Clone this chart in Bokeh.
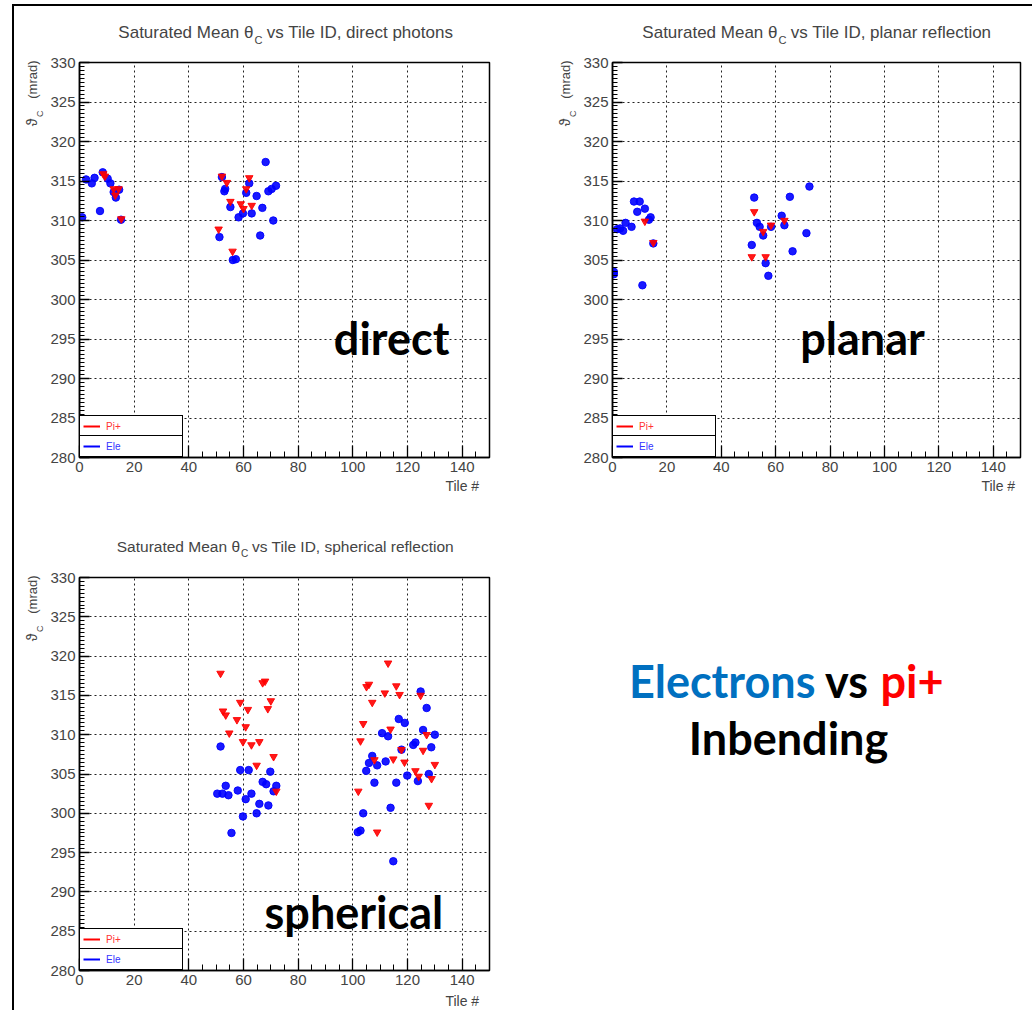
import math
from bokeh.plotting import figure
from bokeh.models import Range1d, SingleIntervalTicker, Label, Legend, LegendItem
from bokeh.layouts import column, row
from bokeh.embed import file_html
from bokeh.resources import INLINE

# ---------------- data ----------------
x_ticks_interval = 20
y_ticks_interval = 5

direct_ele_x = [1.0, 2.4, 4.5, 5.5, 7.5, 8.5, 10.3, 11.3, 12.5, 14.5, 13.3, 15.2,
                52.1, 53.3, 53.0, 55.2, 51.2, 56.1, 57.2, 58.2, 59.8, 61.0, 62.1, 63.0,
                64.8, 66.1, 66.9, 68.1, 69.1, 70.3, 71.9, 70.9]
direct_ele_y = [310.4, 315.2, 314.7, 315.4, 311.2, 316.1, 315.3, 314.7, 313.6, 313.9, 312.9, 310.1,
                315.5, 314.0, 313.7, 311.7, 307.9, 305.0, 305.1, 310.4, 310.9, 313.5, 314.7, 310.9,
                313.1, 308.1, 311.6, 317.4, 313.7, 314.0, 314.4, 310.0]
direct_pi_x = [8.7, 9.3, 12.5, 14.3, 13.1, 15.3, 52.1, 53.9, 55.2, 50.9, 56.0, 59.0, 60.0, 61.0, 62.1, 63.0]
direct_pi_y = [315.9, 315.6, 314.0, 314.0, 313.2, 310.2, 315.6, 314.8, 312.4, 308.9, 306.1, 312.1, 311.5, 314.0, 315.4, 311.9]

planar_ele_x = [0.5, 0.5, 1.7, 2.8, 3.9, 4.8, 7.0, 7.9, 10.0, 9.1, 11.9, 13.4, 14.0, 11.0, 15.0,
                52.1, 53.1, 54.1, 55.4, 51.2, 56.3, 57.3, 58.3, 62.2, 63.2, 65.2, 66.2, 71.3, 72.4]
planar_ele_y = [303.5, 303.2, 308.9, 309.0, 308.7, 309.7, 309.2, 312.4, 312.4, 311.1, 311.5, 310.1, 310.4, 301.8, 307.1,
                312.9, 309.7, 309.2, 308.1, 306.9, 304.6, 303.0, 309.2, 310.6, 309.4, 313.0, 306.1, 308.4, 314.3]
planar_pi_x = [11.9, 15.0, 52.1, 55.4, 51.2, 56.3, 58.3, 63.2]
planar_pi_y = [309.9, 307.2, 311.1, 308.6, 305.4, 305.4, 309.4, 310.0]

spherical_ele_x = [51.6, 58.8, 61.9, 69.8, 53.5, 50.4, 52.3, 54.5, 57.9, 67.0, 68.3, 72.0, 71.0, 62.9,
                   60.8, 65.8, 69.1, 64.8, 59.8, 55.6,
                   124.8, 127.0, 116.8, 119.0, 125.7, 110.7, 112.9, 130.0, 122.1, 122.9, 128.7, 117.8,
                   107.1, 105.9, 108.9, 112.0, 104.9, 119.9, 127.8, 107.9, 115.9, 123.8, 113.8, 103.8,
                   101.8, 102.8, 114.8]
spherical_ele_y = [308.5, 305.5, 305.5, 305.3, 303.5, 302.5, 302.5, 302.3, 302.9, 304.0, 303.7, 303.5, 302.8, 302.5,
                   301.8, 301.2, 301.0, 300.0, 299.6, 297.5,
                   315.5, 313.4, 312.0, 311.5, 310.6, 310.2, 309.8, 310.0, 308.7, 309.0, 308.4, 308.1,
                   307.3, 306.4, 306.1, 306.6, 305.4, 304.8, 305.0, 303.9, 303.9, 304.1, 300.7, 300.0,
                   297.6, 297.8, 293.9]
spherical_pi_x = [51.6, 67.0, 67.9, 58.8, 70.0, 52.5, 53.5, 61.6, 68.9, 57.6, 60.8, 54.8, 59.8, 62.9,
                  65.8, 71.0, 64.8, 72.0,
                  112.9, 105.0, 105.9, 115.9, 111.7, 117.1, 124.8, 107.1, 103.8, 113.8, 102.8, 127.0,
                  117.8, 125.7, 107.9, 114.8, 118.9, 130.0, 122.9, 124.1, 128.8, 102.0, 127.8, 108.9]
spherical_pi_y = [317.8, 316.6, 316.8, 314.1, 314.3, 313.0, 312.5, 313.2, 313.3, 311.9, 311.0, 310.2, 309.1, 308.7,
                  309.1, 307.2, 306.1, 302.8,
                  319.1, 316.1, 316.4, 316.2, 315.3, 315.1, 315.0, 314.1, 311.4, 310.7, 309.2, 310.0,
                  308.1, 308.0, 306.8, 306.9, 306.5, 306.2, 305.4, 304.7, 304.4, 302.8, 301.0, 297.6]

legend_labels = ["Pi+", "Ele"]
x_axis_label = "Tile #"
y_label_parts = ["\u03d1", "C", "(mrad)"]
title_head = "Saturated Mean \u03b8"
title_sub = "C"
title_tails = ["vs Tile ID, direct photons", "vs Tile ID, planar reflection",
               "vs Tile ID, spherical reflection"]
panel_words = ["direct", "planar", "spherical"]

FONT = "Liberation Sans"
RED = "#ff0000"
BLUE = "#0000ff"
TXT = "#444444"


def blank(w, h):
    f = figure(width=w, height=h, x_range=Range1d(0, w), y_range=Range1d(h, 0),
               x_axis_type=None, y_axis_type=None, output_backend="svg", title=None,
               toolbar_location=None, tools="", min_border=0,
               min_border_left=0, min_border_right=0, min_border_top=0, min_border_bottom=0)
    f.grid.visible = False
    f.outline_line_color = None
    f.background_fill_color = "white"
    f.border_fill_color = "white"
    return f


def title_fig(w, h, split_x, yc, tsize, tail):
    t = blank(w, h)
    t.add_layout(Label(x=split_x, y=yc, text=title_head, text_align="right", text_baseline="middle",
                       text_font=FONT, text_font_size=f"{tsize}px", text_color=TXT))
    t.add_layout(Label(x=split_x + 1, y=yc + 7, text=title_sub, text_align="left", text_baseline="middle",
                       text_font=FONT, text_font_size=f"{tsize * 0.65:.1f}px", text_color=TXT))
    t.add_layout(Label(x=split_x + tsize * 0.78, y=yc, text=tail,
                       text_align="left", text_baseline="middle",
                       text_font=FONT, text_font_size=f"{tsize}px", text_color=TXT))
    return t


def ylabel_fig(w, h, xc, ytop):
    f = blank(w, h)
    f.add_layout(Label(x=xc, y=ytop, text=y_label_parts[2], angle=math.pi / 2, text_align="right",
                       text_baseline="middle", text_font=FONT, text_font_size="13px", text_color=TXT))
    f.add_layout(Label(x=xc + 7, y=ytop + 50, text=y_label_parts[1], angle=math.pi / 2, text_align="right",
                       text_baseline="middle", text_font=FONT, text_font_size="9px", text_color=TXT))
    f.add_layout(Label(x=xc - 1, y=ytop + 58, text=y_label_parts[0], angle=math.pi / 2, text_align="right",
                       text_baseline="middle", text_font=FONT, text_font_size="14px", text_color=TXT))
    return f


def xlabel_fig(w, h, xr, yc):
    f = blank(w, h)
    f.add_layout(Label(x=xr, y=yc, text=x_axis_label, text_align="right", text_baseline="middle",
                       text_font=FONT, text_font_size="14px", text_color=TXT))
    return f


def make_panel(w, h, bl, br, bt, bb, ex, ey, px, py, big, bx, by):
    p = figure(width=w, height=h, x_range=Range1d(0, 150), y_range=Range1d(280, 330),
               output_backend="svg", toolbar_location=None, tools="", title=None,
               min_border_left=bl, min_border_right=br, min_border_top=bt, min_border_bottom=bb)
    p.outline_line_color = "black"
    p.outline_line_width = 1.5
    p.outline_line_alpha = 1.0
    p.background_fill_color = "white"
    p.border_fill_color = "white"

    p.xaxis.ticker = SingleIntervalTicker(interval=x_ticks_interval, num_minor_ticks=4)
    p.yaxis.ticker = SingleIntervalTicker(interval=y_ticks_interval, num_minor_ticks=10)
    for ax in (p.xaxis[0], p.yaxis[0]):
        ax.axis_line_color = "black"
        ax.axis_line_width = 1.5
        ax.major_tick_line_color = "black"
        ax.minor_tick_line_color = "black"
        ax.major_tick_line_width = 1.3
        ax.minor_tick_line_width = 1.0
        ax.major_tick_out = 0
        ax.minor_tick_out = 0
        ax.major_label_text_font = FONT
        ax.major_label_text_font_size = "15px"
        ax.major_label_text_color = TXT
        ax.major_label_standoff = 4
    p.xaxis.major_tick_in = 12
    p.xaxis.minor_tick_in = 6
    p.yaxis.major_tick_in = 10
    p.yaxis.minor_tick_in = 5

    for g in (p.xgrid[0], p.ygrid[0]):
        g.grid_line_color = "#222222"
        g.grid_line_dash = "2 3"
        g.grid_line_width = 1

    p.scatter(ex, ey, marker="circle", size=7.5, fill_color=BLUE, line_color=BLUE, alpha=0.9)
    p.scatter(px, py, marker="inverted_triangle", size=7.5, fill_color=RED, line_color=RED, alpha=0.9)

    # legend (two boxed rows, line glyphs)
    nan = float("nan")
    r_pi = p.line([nan], [nan], line_color=RED, line_width=2)
    r_el = p.line([nan], [nan], line_color=BLUE, line_width=2)
    for lab, rr, col, loc in ((legend_labels[0], r_pi, "#ff3333", (0, 20)),
                              (legend_labels[1], r_el, "#3333ff", (0, 0))):
        lg = Legend(items=[LegendItem(label=lab, renderers=[rr])], location=loc,
                    border_line_color="black", border_line_width=1.5, border_line_alpha=1.0,
                    background_fill_color="white", background_fill_alpha=1.0,
                    label_text_font=FONT, label_text_font_size="10px", label_text_color=col,
                    glyph_width=17, glyph_height=14, label_height=14, label_width=73,
                    label_standoff=6, padding=3, margin=0, spacing=0)
        p.add_layout(lg)

    p.add_layout(Label(x=bx, y=by, text=big, text_align="center", text_baseline="middle",
                       text_font="Lato", text_font_style="bold", text_font_size="45px",
                       text_color="black"))
    return p


# --- panel 1 (direct) ---
t1 = title_fig(506, 42, 239, 26, 17, title_tails[0])
p1 = make_panel(474, 431, 33, 31, 14, 22, direct_ele_x, direct_ele_y, direct_pi_x, direct_pi_y,
                panel_words[0], 114.2, 295.1)
xl1 = xlabel_fig(474, 41, 462, 6)
yl1 = ylabel_fig(32, 472, 18, 12)

# --- panel 2 (planar) ---
t2 = title_fig(512, 42, 257, 26, 17, title_tails[1])
p2 = make_panel(454, 431, 34, 12, 14, 22, planar_ele_x, planar_ele_y, planar_pi_x, planar_pi_y,
                panel_words[1], 91.9, 295.1)
xl2 = xlabel_fig(454, 41, 448, 6)
yl2 = ylabel_fig(58, 472, 45, 12)

# --- panel 3 (spherical) ---
t3 = title_fig(506, 42, 225.5, 26, 15.5, title_tails[2])
p3 = make_panel(474, 430, 33, 31, 15, 22, spherical_ele_x, spherical_ele_y, spherical_pi_x, spherical_pi_y,
                panel_words[2], 100.4, 287.4)
xl3 = xlabel_fig(474, 18, 462, 8)
yl3 = ylabel_fig(32, 448, 18, 13)

# --- text panel ---
p4 = blank(512, 490)
big_style = dict(text_font="Lato", text_font_style="bold", text_font_size="45px", text_baseline="middle")
p4.add_layout(Label(x=295, y=160, text="Electrons", text_align="right", text_color="#0070c0", **big_style))
p4.add_layout(Label(x=326, y=160, text="vs", text_align="center", text_color="black", **big_style))
p4.add_layout(Label(x=360, y=160, text="pi+", text_align="left", text_color="#ff0000", **big_style))
p4.add_layout(Label(x=268, y=217, text="Inbending", text_align="center", text_color="black", **big_style))

layout = column(
    row(column(t1, row(yl1, column(p1, xl1))), column(t2, row(yl2, column(p2, xl2)))),
    row(column(t3, row(yl3, column(p3, xl3))), p4),
    margin=(4, 0, 0, 12),
    styles={"border-left": "2px solid black", "border-top": "2px solid black"},
)

open("out.html", "w").write(file_html(layout, INLINE))
